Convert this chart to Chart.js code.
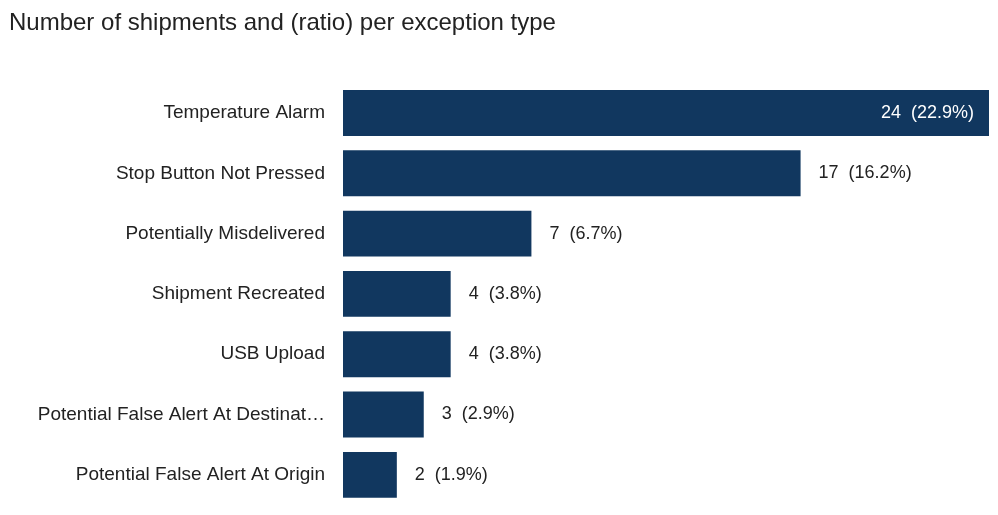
<!DOCTYPE html>
<html>
<head>
<meta charset="utf-8">
<script src="https://cdn.jsdelivr.net/npm/chart.js@4.4.1/dist/chart.umd.min.js"></script>
<style>
  html, body { margin: 0; padding: 0; background: #fff; }
  #wrap { width: 998px; height: 515px; }
</style>
</head>
<body>
<div id="wrap"><canvas id="myChart" width="998" height="515"></canvas></div>
<script>
// exception types and counts
const exceptionTypes = [
  'Temperature Alarm',
  'Stop Button Not Pressed',
  'Potentially Misdelivered',
  'Shipment Recreated',
  'USB Upload',
  'Potential False Alert At Destinat\u2026',
  'Potential False Alert At Origin'
];
const shipmentCounts = [24, 17, 7, 4, 4, 3, 2];
const shipmentRatios = ['22.9%', '16.2%', '6.7%', '3.8%', '3.8%', '2.9%', '1.9%'];

const barColor = '#11375f';
const textColor = '#222222';
const fontFamily = '"Liberation Sans", Arial, sans-serif';

// draws "count  (ratio)" next to each bar, inside for the longest one
const valueLabels = {
  id: 'valueLabels',
  afterDatasetsDraw(chart) {
    const ctx = chart.ctx;
    const meta = chart.getDatasetMeta(0);
    ctx.save();
    ctx.font = '18px ' + fontFamily;
    ctx.textBaseline = 'middle';
    meta.data.forEach((bar, i) => {
      const text = shipmentCounts[i] + '  (' + shipmentRatios[i] + ')';
      const w = ctx.measureText(text).width;
      if (bar.x + 18 + w > chart.chartArea.right) {
        ctx.fillStyle = '#ffffff';
        ctx.textAlign = 'right';
        ctx.fillText(text, bar.x - 15, bar.y);
      } else {
        ctx.fillStyle = textColor;
        ctx.textAlign = 'left';
        ctx.fillText(text, bar.x + 18, bar.y);
      }
    });
    ctx.restore();
  }
};

const ctx = document.getElementById('myChart').getContext('2d');

const myChart = new Chart(ctx, {
  type: 'bar',
  data: {
    labels: exceptionTypes,
    datasets: [{
      data: shipmentCounts,
      backgroundColor: barColor,
      borderWidth: 0,
      categoryPercentage: 0.76,
      barPercentage: 1.0
    }]
  },
  options: {
    indexAxis: 'y',
    responsive: false,
    animation: false,
    layout: { padding: { left: 9, right: 9, top: 0, bottom: 10 } },
    plugins: {
      legend: { display: false },
      tooltip: { enabled: false },
      title: {
        display: true,
        text: 'Number of shipments and (ratio) per exception type',
        align: 'start',
        color: textColor,
        font: { family: fontFamily, size: 24, weight: 'normal', lineHeight: 1.2 },
        padding: { top: 9, bottom: 45 }
      }
    },
    scales: {
      x: {
        display: false,
        min: 0,
        max: 24
      },
      y: {
        grid: { display: false },
        border: { display: false },
        ticks: {
          color: textColor,
          padding: 10,
          font: { family: fontFamily, size: 19 }
        },
        afterFit(scale) {
          scale.width = 334;
          scale.paddingTop = 0;
          scale.paddingBottom = 0;
        }
      }
    }
  },
  plugins: [valueLabels]
});
</script>
</body>
</html>
